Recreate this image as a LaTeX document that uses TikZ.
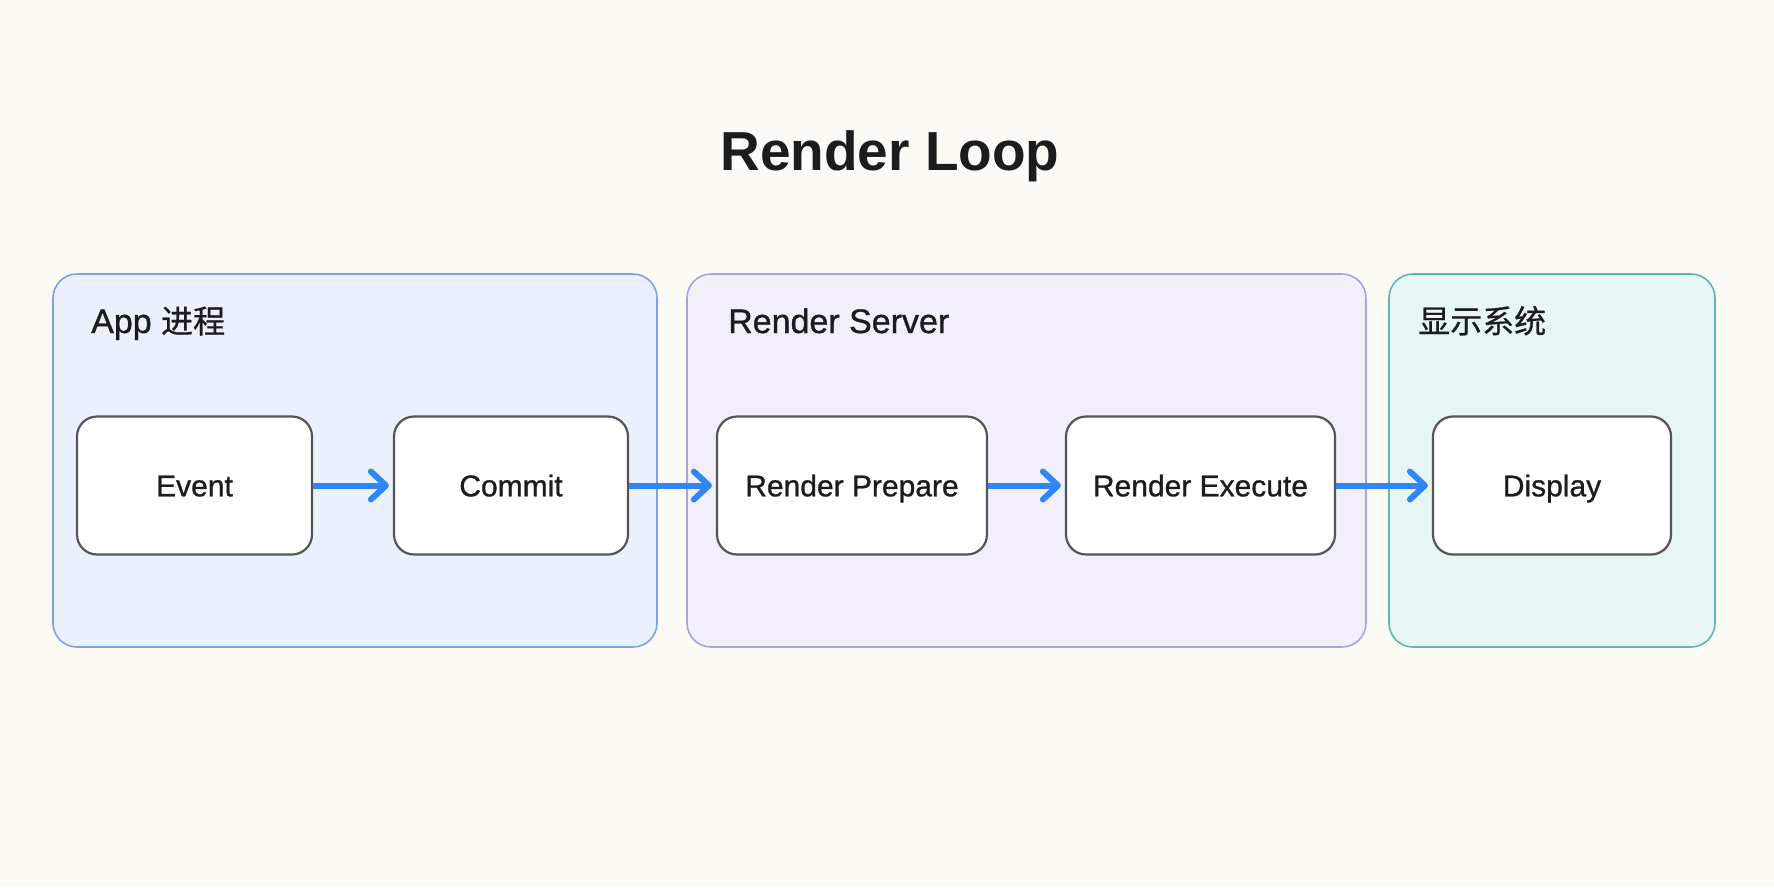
\documentclass[tikz,border=0pt]{standalone}
\usepackage{fontspec}
\setmainfont{Liberation Sans}
\newfontfamily\medfont[FakeBold=0.9]{Liberation Sans}
\newfontfamily\cjk[FakeBold=0.6]{Noto Sans CJK SC}
\usetikzlibrary{arrows.meta}
\definecolor{bg}{HTML}{FCFAF5}
\definecolor{appfill}{HTML}{EAF1FC}
\definecolor{appline}{HTML}{80A2E2}
\definecolor{rsfill}{HTML}{F2EFFA}
\definecolor{rsline}{HTML}{A8A1E6}
\definecolor{dpfill}{HTML}{E7F6F5}
\definecolor{dpline}{HTML}{5EB6AF}
\definecolor{boxline}{HTML}{555555}
\definecolor{txt}{HTML}{1C1C1C}
\definecolor{arrowblue}{HTML}{2F86F6}
\begin{document}
\begin{tikzpicture}[x=1pt,y=-1pt,
  container/.style={draw, line width=1.6pt, rounded corners=24pt, inner sep=0pt},
  groupname/.style={anchor=base west, text=txt, inner sep=0pt, font=\medfont\fontsize{34}{40}\selectfont},
  stepbox/.style={draw=boxline, fill=white, line width=2.2pt, rounded corners=20pt,
    minimum height=138pt, inner sep=0pt, text=txt, font=\medfont\fontsize{30}{36}\selectfont,
    text height=21.6pt, text depth=0pt},
  flow/.style={draw=arrowblue, line width=6pt, shorten >=4pt,
    -{Straight Barb[length=15pt, width=28pt, round]}}
]
\fill[bg] (0,0) rectangle (1774,887);
\useasboundingbox (0,0) rectangle (1774,887);

\node[anchor=base, text=txt, font=\fontsize{55}{62}\selectfont\bfseries] (title) at (890,170) {Render Loop};

\node[container, draw=appline, fill=appfill, minimum width=604pt, minimum height=373pt] (app) at (355,460.5) {};
\node[container, draw=rsline, fill=rsfill, minimum width=679pt, minimum height=373pt] (rs) at (1026.5,460.5) {};
\node[container, draw=dpline, fill=dpfill, minimum width=326pt, minimum height=373pt] (dp) at (1552,460.5) {};

\node[groupname] (applabel) at (91,333) {App {\cjk\fontsize{32}{40}\selectfont 进程}};
\node[groupname] (rslabel) at (728,333) {Render Server};
\node[groupname, font=\cjk\fontsize{32}{40}\selectfont] (dplabel) at (1418,333) {显示系统};

\node[stepbox, minimum width=235pt] (event) at (194.5,485.5) {Event};
\node[stepbox, minimum width=234pt] (commit) at (511,485.5) {Commit};
\node[stepbox, minimum width=270pt] (prep) at (852,485.5) {Render Prepare};
\node[stepbox, minimum width=269pt] (exec) at (1200.5,485.5) {Render Execute};
\node[stepbox, minimum width=238pt] (display) at (1552,485.5) {Display};

\draw[flow] (event.east) -- (commit.west);
\draw[flow] (commit.east) -- (prep.west);
\draw[flow] (prep.east) -- (exec.west);
\draw[flow] (exec.east) -- (display.west);
\end{tikzpicture}
\end{document}
